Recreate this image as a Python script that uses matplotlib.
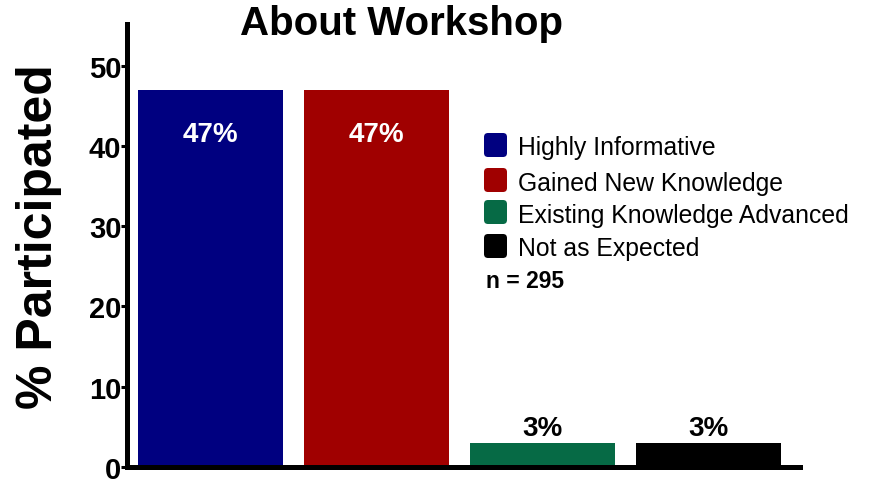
import matplotlib
matplotlib.use("Agg")
import matplotlib.pyplot as plt
from matplotlib.patches import FancyBboxPatch

categories = ["Highly Informative", "Gained New Knowledge",
              "Existing Knowledge Advanced", "Not as Expected"]
values = [47, 47, 3, 3]
labels = ["47%", "47%", "3%", "3%"]
colors = ["#000080", "#A00000", "#066A45", "#000000"]
yticks = [0, 10, 20, 30, 40, 50]
n_text = "n = 295"

plt.rcParams['font.family'] = ['Liberation Sans', 'DejaVu Sans']

W, H = 869, 485
fig = plt.figure(figsize=(W / 100, H / 100), dpi=100)
ax = fig.add_axes([127 / W, 1 - 468 / H, 673 / W, 443 / H])

x = list(range(len(categories)))
ax.bar(x, values, width=0.873, color=colors, edgecolor='none')

for xi, v, lab in zip(x, values, labels):
    if v > 20:
        ax.text(xi, v - 5.5, lab, ha='center', va='center', color='white',
                fontsize=20, fontweight='bold')
    else:
        ax.text(xi, v + 1.9, lab, ha='center', va='center', color='black',
                fontsize=20, fontweight='bold')

ax.set_xlim(-0.503, 3.548)
ax.set_ylim(0, 55.2)
ax.set_yticks(yticks)
ax.set_yticklabels([str(t) for t in yticks], fontsize=21, fontweight='bold')
ax.set_xticks([])
for s in ['top', 'right']:
    ax.spines[s].set_visible(False)
for s in ['left', 'bottom']:
    ax.spines[s].set_linewidth(3.6)
ax.tick_params(axis='y', length=4, width=2.2, pad=0)

ax.set_ylabel("% Participated", fontsize=36, fontweight='bold')
ax.yaxis.set_label_coords(-0.096, 0.522)

fig.text(402 / W, 1 - 35 / H, "About Workshop", fontsize=29,
         fontweight='bold', ha='center', va='baseline')

# legend drawn in pixel coordinates
row_y = [146, 181, 213, 247]
for c, cat, yc in zip(colors, categories, row_y):
    box = FancyBboxPatch((484, H - yc - 12), 23, 24,
                         boxstyle="round,pad=0,rounding_size=4",
                         facecolor=c, edgecolor='none', transform=None)
    fig.patches.append(box)
    fig.text(518 / W, 1 - yc / H, cat, fontsize=17.8, ha='left',
             va='center_baseline')
fig.text(486 / W, 1 - 279 / H, n_text, fontsize=16.5, fontweight='bold',
         va='center_baseline', ha='left')

fig.savefig("out.png", dpi=100)
